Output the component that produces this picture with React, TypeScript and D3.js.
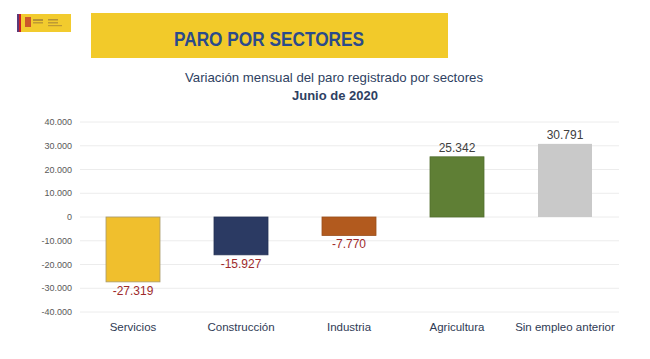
import React from "react";
import * as d3 from "d3";

const categories = ["Servicios", "Construcción", "Industria", "Agricultura", "Sin empleo anterior"];
const values = [-27319, -15927, -7770, 25342, 30791];
const valueLabels = ["-27.319", "-15.927", "-7.770", "25.342", "30.791"];
const barColors = ["#F0BF2D", "#2B3A63", "#B25A1E", "#5F7F35", "#C9C9C9"];
const yTicks = [40000, 30000, 20000, 10000, 0, -10000, -20000, -30000, -40000];

const W = 650;
const H = 359;

const fmt = (v: number) => {
  if (v === 0) return "0";
  const s = d3.format(",")(v).replace(/,/g, ".");
  return s.replace("−", "-");
};

export default function App() {
  const x = d3.scaleBand<string>().domain(categories).range([79, 619]).paddingInner(0.5).paddingOuter(0.25);
  const y = d3.scaleLinear().domain([-40000, 40000]).range([312, 122]);

  return (
    <svg width={W} height={H} style={{ position: "absolute", left: 0, top: 0, background: "#fff" }}>
      <rect x={0} y={0} width={W} height={H} fill="#fff" />
      {/* logo */}
      <g>
        <rect x={17} y={14} width={54} height={18} fill="#F2CB2E" />
        <rect x={17} y={14} width={2} height={18} fill="#5A3A7A" />
        <rect x={19} y={14} width={2} height={18} fill="#C8202A" />
        <rect x={25} y={17} width={6} height={10} fill="#C0392B" opacity={0.8} />
        <rect x={33} y={19} width={10} height={2} fill="#8a6a3a" opacity={0.6} />
        <rect x={33} y={22} width={10} height={1.5} fill="#8a6a3a" opacity={0.5} />
        <rect x={48} y={19} width={10} height={1.5} fill="#8a6a3a" opacity={0.6} />
        <rect x={48} y={22} width={10} height={1.5} fill="#8a6a3a" opacity={0.5} />
        <rect x={48} y={25} width={14} height={1.2} fill="#8a6a3a" opacity={0.5} />
      </g>
      {/* banner */}
      <rect x={91} y={13} width={357} height={45} fill="#F2CA2A" />
      <text
        x={269}
        y={46}
        textAnchor="middle"
        fontFamily="'Liberation Sans Narrow', 'Arial Narrow', 'Liberation Sans', sans-serif"
        fontWeight="bold"
        fontSize={20}
        fill="#2B4A8B"
        textLength={190}
        lengthAdjust="spacingAndGlyphs"
      >
        PARO POR SECTORES
      </text>
      {/* titles */}
      <text x={334} y={82} textAnchor="middle" fontFamily="'Liberation Sans', Arial, sans-serif" fontSize={13} fill="#2E3F62" textLength={298} lengthAdjust="spacingAndGlyphs">
        Variación mensual del paro registrado por sectores
      </text>
      <text x={335} y={100} textAnchor="middle" fontFamily="'Liberation Sans', Arial, sans-serif" fontWeight="bold" fontSize={13} fill="#2E3F62">
        Junio de 2020
      </text>
      {/* grid + y axis */}
      {yTicks.map((t) => (
        <g key={t}>
          <line x1={80} x2={619} y1={y(t)} y2={y(t)} stroke="#ECECEC" strokeWidth={1} />
          <text x={72} y={y(t)} dy="0.35em" textAnchor="end" fontFamily="'Liberation Sans', Arial, sans-serif" fontSize={9} fill="#595959">
            {fmt(t)}
          </text>
        </g>
      ))}
      {/* bars */}
      {categories.map((c, i) => {
        const v = values[i];
        const x0 = x(c)!;
        const yTop = y(Math.max(0, v));
        const yBot = y(Math.min(0, v));
        return (
          <g key={c}>
            <rect
              x={x0}
              y={yTop}
              width={x.bandwidth()}
              height={yBot - yTop}
              fill={barColors[i]}
              stroke={i === 0 ? "#A89A6A" : i === 4 ? "none" : d3.color(barColors[i])!.darker(0.4).toString()}
              strokeWidth={0.8}
            />
            <text
              x={x0 + x.bandwidth() / 2}
              y={v < 0 ? yBot + 13 : yTop - 5}
              textAnchor="middle"
              fontFamily="'Liberation Sans', Arial, sans-serif"
              fontSize={12}
              fill={v < 0 ? "#9E2A2B" : "#404040"}
            >
              {valueLabels[i]}
            </text>
            <text
              x={x0 + x.bandwidth() / 2}
              y={331}
              textAnchor="middle"
              fontFamily="'Liberation Sans', Arial, sans-serif"
              fontSize={11.5}
              fill="#2F3B55"
            >
              {c}
            </text>
          </g>
        );
      })}
    </svg>
  );
}
